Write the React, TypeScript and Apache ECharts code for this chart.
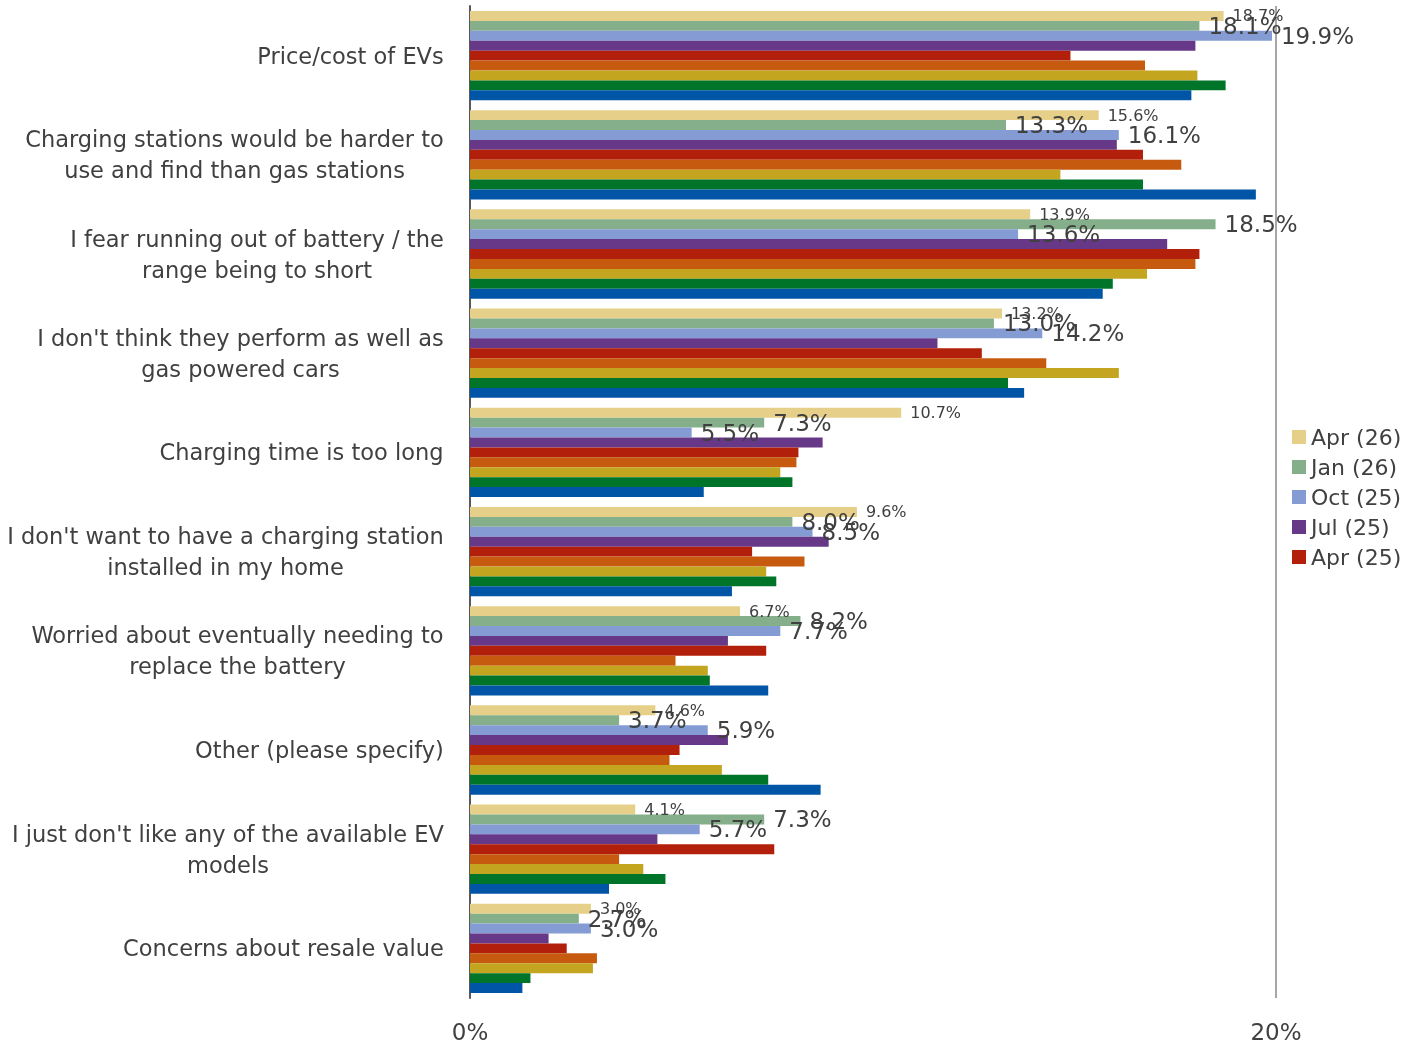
import React, { useEffect, useRef } from "react";
import * as echarts from "echarts";

const categories = [
  "Price/cost of EVs",
  "Charging stations would be harder to\nuse and find than gas stations",
  "I fear running out of battery / the\nrange being to short",
  "I don't think they perform as well as\ngas powered cars",
  "Charging time is too long",
  "I don't want to have a charging station\ninstalled in my home",
  "Worried about eventually needing to\nreplace the battery",
  "Other (please specify)",
  "I just don't like any of the available EV\nmodels",
  "Concerns about resale value",
];

const seriesNames = ["Apr (26)", "Jan (26)", "Oct (25)", "Jul (25)", "Apr (25)", "Jan (25)", "Oct (24)", "Jul (24)", "Apr (24)"];

const apr26 = [18.7, 15.6, 13.9, 13.2, 10.7, 9.6, 6.7, 4.6, 4.1, 3.0];
const jan26 = [18.1, 13.3, 18.5, 13.0, 7.3, 8.0, 8.2, 3.7, 7.3, 2.7];
const oct25 = [19.9, 16.1, 13.6, 14.2, 5.5, 8.5, 7.7, 5.9, 5.7, 3.0];
const jul25 = [18.0, 16.05, 17.3, 11.6, 8.75, 8.9, 6.4, 6.4, 4.65, 1.95];
const apr25 = [14.9, 16.7, 18.1, 12.7, 8.15, 7.0, 7.35, 5.2, 7.55, 2.4];
const jan25 = [16.75, 17.65, 18.0, 14.3, 8.1, 8.3, 5.1, 4.95, 3.7, 3.15];
const oct24 = [18.05, 14.65, 16.8, 16.1, 7.7, 7.35, 5.9, 6.25, 4.3, 3.05];
const jul24 = [18.75, 16.7, 15.95, 13.35, 8.0, 7.6, 5.95, 7.4, 4.85, 1.5];
const apr24 = [17.9, 19.5, 15.7, 13.75, 5.8, 6.5, 7.4, 8.7, 3.45, 1.3];

const seriesData = [apr26, jan26, oct25, jul25, apr25, jan25, oct24, jul24, apr24];
const colors = ["#E6CF88", "#84AF8A", "#849BD4", "#673788", "#B21F0A", "#C65B10", "#C3A51F", "#00752A", "#0055A6"];
const legendNames = seriesNames.slice(0, 5);
const xTicks = [0, 20];

const FONT = "DejaVu Sans";
const CAT_FS = 22.5;

function measure(text: string, size: number): number {
  const c = document.createElement("canvas");
  const ctx = c.getContext("2d")!;
  ctx.font = `${size}px "${FONT}"`;
  return Math.max(...text.split("\n").map((l) => ctx.measureText(l).width));
}

export default function App() {
  const ref = useRef<HTMLDivElement>(null);
  useEffect(() => {
    if (!ref.current) return;
    const chart = echarts.init(ref.current, null, { renderer: "svg" });
    const rich: Record<string, any> = {};
    categories.forEach((c, i) => {
      rich["r" + i] = {
        width: Math.ceil(measure(c, CAT_FS)) + 2,
        align: "center",
        fontSize: CAT_FS,
        lineHeight: 31,
        fontFamily: FONT,
        color: "#404040",
      };
    });
    const labelSizes: Record<number, number> = { 0: 16, 1: 23, 2: 23 };
    const series = seriesData.map((d, i) => ({
      type: "bar",
      name: seriesNames[i],
      data: d,
      barGap: "0%",
      barCategoryGap: "10%",
      itemStyle: { color: colors[i] },
      label: labelSizes[i]
        ? {
            show: true,
            position: "right",
            distance: 9,
            fontSize: labelSizes[i],
            fontFamily: FONT,
            color: "#404040",
            formatter: (p: any) => Number(p.value).toFixed(1) + "%",
          }
        : { show: false },
    }));
    chart.setOption({
      animation: false,
      textStyle: { fontFamily: FONT },
      grid: { left: 470, right: 129, top: 6, bottom: 49, containLabel: false },
      legend: {
        data: legendNames,
        orient: "vertical",
        left: 1287,
        top: 421,
        itemWidth: 14,
        itemHeight: 14,
        itemGap: 8,
        icon: "rect",
        textStyle: { fontSize: 22, color: "#404040", fontFamily: FONT },
      },
      xAxis: {
        type: "value",
        min: xTicks[0],
        max: xTicks[1],
        interval: 20,
        axisLine: { show: false },
        axisTick: { show: false },
        splitLine: { show: true, lineStyle: { color: "#A6A6A6", width: 2 } },
        axisLabel: { formatter: "{value}%", fontSize: 23, color: "#404040", margin: 22, fontFamily: FONT },
      },
      yAxis: {
        type: "category",
        data: categories,
        inverse: true,
        axisLine: { show: true, lineStyle: { color: "#595959", width: 2 } },
        axisTick: { show: false },
        axisLabel: {
          margin: 25,
          formatter: (v: string, idx: number) => `{r${idx}|${v}}`,
          rich,
        },
      },
      series,
    });
    return () => chart.dispose();
  }, []);
  return (
    <div
      ref={ref}
      style={{ position: "fixed", left: 0, top: 0, width: 1405, height: 1047 }}
    />
  );
}
